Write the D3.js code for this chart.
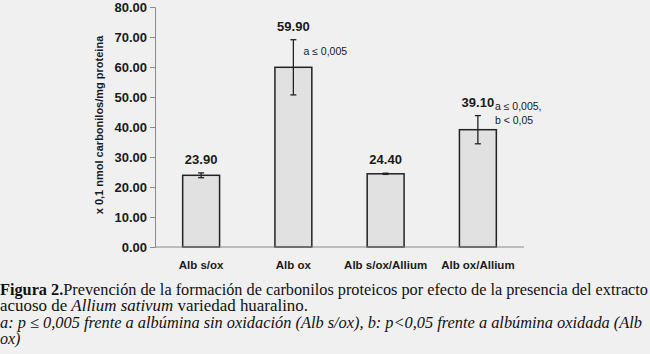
<!DOCTYPE html>
<html lang="es">
<head>
    <meta charset="utf-8">
    <title>Figura 2 - carbonilos proteicos</title>
    <script src="https://d3js.org/d3.v7.min.js"></script>
    <style>
        body { margin: 0; background: #f0f0f0; }
        svg { display: block; }
    </style>
</head>
<body>
<script>
    // Data
    const categories  = ["Alb s/ox", "Alb ox", "Alb s/ox/Allium", "Alb ox/Allium"];
    const values      = [23.9, 59.9, 24.4, 39.1];
    const errors      = [0.8, 9.2, 0.2, 4.7];
    const valueLabels = ["23.90", "59.90", "24.40", "39.10"];
    const notes       = [[], ["a \u2264 0,005"], [], ["a \u2264 0,005,", "b < 0,05"]];
    const yTicks      = [0, 10, 20, 30, 40, 50, 60, 70, 80];

    const W = 650, H = 354;
    const plotLeft = 155, plotRight = 524, plotTop = 7, plotBottom = 247;

    const svg = d3.select("body").append("svg")
        .attr("width", W)
        .attr("height", H);

    svg.append("rect").attr("width", W).attr("height", H).attr("fill", "#f0f0f0");

    const x = d3.scaleBand()
        .domain(categories)
        .range([plotLeft, plotRight])
        .paddingInner(0.6)
        .paddingOuter(0.3);

    const y = d3.scaleLinear()
        .domain([0, 80])
        .range([plotBottom, plotTop]);

    // y axis
    const yAxis = svg.append("g")
        .attr("transform", "translate(" + plotLeft + ",0)")
        .call(d3.axisLeft(y).tickValues(yTicks).tickSize(5).tickFormat(d3.format(".2f")));
    yAxis.select(".domain").attr("stroke", "#8a8a8a");
    yAxis.selectAll(".tick line").attr("stroke", "#8a8a8a");
    yAxis.selectAll("text")
        .attr("x", -8)
        .attr("font-family", "Liberation Sans, Arial, sans-serif")
        .attr("font-size", 13)
        .attr("font-weight", "bold")
        .attr("fill", "#1a1a1a");

    // y title
    svg.append("text")
        .attr("transform", "translate(103,125) rotate(-90)")
        .attr("text-anchor", "middle")
        .attr("font-family", "Liberation Sans, Arial, sans-serif")
        .attr("font-size", 11)
        .attr("font-weight", "bold")
        .attr("fill", "#1a1a1a")
        .text("x 0,1 nmol carbonilos/mg proteina");

    // bars
    svg.selectAll("rect.bar")
        .data(values)
        .enter()
        .append("rect")
        .attr("class", "bar")
        .attr("x", (d, i) => x(categories[i]))
        .attr("y", d => y(d))
        .attr("width", x.bandwidth())
        .attr("height", d => y(0) - y(d))
        .attr("fill", "#e1e1e1")
        .attr("stroke", "#222")
        .attr("stroke-width", 1.5);

    // x axis line
    svg.append("line")
        .attr("x1", plotLeft).attr("x2", plotRight)
        .attr("y1", y(0)).attr("y2", y(0))
        .attr("stroke", "#8a8a8a")
        .attr("stroke-width", 1.2);

    // error bars
    const err = svg.append("g").attr("stroke", "#222").attr("stroke-width", 1.3);
    values.forEach((v, i) => {
        const cx = x(categories[i]) + x.bandwidth() / 2;
        const y1 = y(v + errors[i]), y2 = y(v - errors[i]);
        err.append("line").attr("x1", cx).attr("x2", cx).attr("y1", y1).attr("y2", y2);
        err.append("line").attr("x1", cx - 3).attr("x2", cx + 3).attr("y1", y1).attr("y2", y1);
        err.append("line").attr("x1", cx - 3).attr("x2", cx + 3).attr("y1", y2).attr("y2", y2);
    });

    // value labels
    values.forEach((v, i) => {
        const cx = x(categories[i]) + x.bandwidth() / 2;
        const base = y(v + errors[i]) - 9;
        svg.append("text")
            .attr("x", cx)
            .attr("y", base)
            .attr("text-anchor", "middle")
            .attr("font-family", "Liberation Sans, Arial, sans-serif")
            .attr("font-size", 13)
            .attr("font-weight", "bold")
            .attr("fill", "#1a1a1a")
            .text(valueLabels[i]);

        // significance notes
        const n = notes[i];
        n.forEach((t, j) => {
            let nx, ny;
            if (n.length === 1) {
                nx = cx + 10;
                ny = y(v + errors[i]) + 15;
            } else {
                nx = cx + 17;
                ny = base + 3 + j * 14;
            }
            svg.append("text")
                .attr("x", nx)
                .attr("y", ny)
                .attr("font-family", "Liberation Sans, Arial, sans-serif")
                .attr("font-size", 10.5)
                .attr("fill", "#1a1a1a")
                .text(t);
        });
    });

    // category labels
    svg.selectAll("text.cat")
        .data(categories)
        .enter()
        .append("text")
        .attr("class", "cat")
        .attr("x", d => x(d) + x.bandwidth() / 2)
        .attr("y", 269)
        .attr("text-anchor", "middle")
        .attr("font-family", "Liberation Sans, Arial, sans-serif")
        .attr("font-size", 11.5)
        .attr("font-weight", "bold")
        .attr("fill", "#1a1a1a")
        .text(d => d);

    // caption
    const cap = svg.append("g")
        .attr("font-family", "Liberation Serif, Times New Roman, serif")
        .attr("font-size", 16)
        .attr("fill", "#111");

    const l1 = cap.append("text").attr("x", 0).attr("y", 295)
        .attr("textLength", 648).attr("lengthAdjust", "spacingAndGlyphs");
    l1.append("tspan").attr("font-weight", "bold").text("Figura 2.");
    l1.append("tspan").text("Prevención de la formación de carbonilos proteicos por efecto de la presencia del extracto");

    const l2 = cap.append("text").attr("x", 0).attr("y", 311)
        .attr("textLength", 308).attr("lengthAdjust", "spacingAndGlyphs");
    l2.append("tspan").text("acuoso de ");
    l2.append("tspan").attr("font-style", "italic").text("Allium sativum");
    l2.append("tspan").text(" variedad huaralino.");

    cap.append("text").attr("x", 0).attr("y", 328)
        .attr("font-style", "italic")
        .attr("textLength", 642).attr("lengthAdjust", "spacingAndGlyphs")
        .text("a: p \u2264 0,005  frente a albúmina sin oxidación (Alb s/ox), b: p<0,05 frente a albúmina oxidada (Alb");

    cap.append("text").attr("x", 0).attr("y", 344)
        .attr("font-style", "italic")
        .text("ox)");
</script>
</body>
</html>
